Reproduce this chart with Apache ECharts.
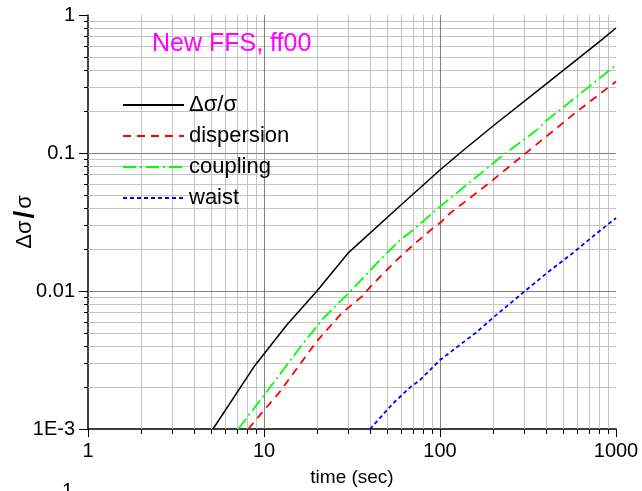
<!DOCTYPE html>
<html>
<head>
<meta charset="utf-8">
<script src="https://cdn.jsdelivr.net/npm/echarts@6/dist/echarts.min.js"></script>
<style>
html,body{margin:0;padding:0;background:#fff;}
#chart{width:642px;height:491px;}
</style>
</head>
<body>
<div id="chart"></div>
<script>
// ---- data ----
const seriesNames = ['Δσ/σ', 'dispersion', 'coupling', 'waist'];

const sigmaTime  = [5.13, 8.9, 10, 13.5, 20, 30, 60, 100, 130, 200, 405, 829, 1000];
const sigmaValue = [0.001, 0.0029, 0.0035, 0.0057, 0.0100, 0.0188, 0.042, 0.0753, 0.1, 0.157, 0.32, 0.66, 0.805];

const dispersionTime  = [8.14, 10, 12.1, 19.9, 27.6, 35.9, 40.9, 55.5, 70.5, 89.7, 102, 114, 184, 370, 598, 1000];
const dispersionValue = [0.001, 0.00137, 0.00181, 0.0043, 0.0069, 0.0091, 0.011, 0.0163, 0.0216, 0.028, 0.0318, 0.0366, 0.0586, 0.121, 0.199, 0.33];

const couplingTime  = [7.14, 10.36, 16.7, 21.7, 29.5, 39.1, 46.6, 59.3, 70.5, 93.7, 127, 229, 370, 395, 572, 1000];
const couplingValue = [0.001, 0.00186, 0.00418, 0.00634, 0.00935, 0.0136, 0.01725, 0.0234, 0.0277, 0.0382, 0.0524, 0.0967, 0.153, 0.169, 0.245, 0.434];

const waistTime  = [40, 54.3, 67.5, 76.9, 100, 162, 200, 304, 405, 570, 777, 1000];
const waistValue = [0.001, 0.00154, 0.0020, 0.00226, 0.00316, 0.00505, 0.0064, 0.01, 0.0135, 0.0189, 0.0262, 0.0338];

const xMajorTicks = [1, 10, 100, 1000];
const xTickLabels = ['1', '10', '100', '1000'];
const yMajorTicks = [0.001, 0.01, 0.1, 1];
const yTickLabels = ['1E-3', '0.01', '0.1', '1'];
const titleText = 'New FFS, ff00';
const xAxisTitle = 'time (sec)';
const yAxisTitle = 'Δσ{s|/}σ';

// ---- helpers ----
function zip(t, v) { return t.map((x, i) => [x, v[i]]); }
function minorsOf(majors) {
  const out = [];
  for (let i = 0; i < majors.length - 1; i++) {
    for (let k = 2; k <= 9; k++) out.push(+(majors[i] * k).toPrecision(6));
  }
  return out;
}
const xMinor = minorsOf(xMajorTicks);
const yMinor = minorsOf(yMajorTicks);
const xInner = xMajorTicks.slice(1, -1);
const yInner = yMajorTicks.slice(1, -1);

const FONT = "'Liberation Sans', Arial, sans-serif";

function gridLayer(values, dir, color, tickLen, drawLine) {
  return {
    type: 'custom',
    silent: true,
    z: 1,
    legendHoverLink: false,
    data: values.map(v => dir === 'v' ? [v, 0.01] : [10, v]),
    renderItem: function (params, api) {
      const cs = params.coordSys;
      const children = [];
      if (dir === 'v') {
        const x = Math.round(api.coord([api.value(0), 0.01])[0]) + 0.5;
        const bottom = cs.y + cs.height;
        if (drawLine) children.push({ type: 'line', shape: { x1: x, y1: cs.y, x2: x, y2: bottom }, style: { stroke: color, lineWidth: 1 } });
        if (tickLen) children.push({ type: 'line', shape: { x1: x, y1: bottom, x2: x, y2: bottom + tickLen }, style: { stroke: '#000', lineWidth: 1 } });
      } else {
        const y = Math.round(api.coord([10, api.value(1)])[1]) + 0.5;
        if (drawLine) children.push({ type: 'line', shape: { x1: cs.x, y1: y, x2: cs.x + cs.width, y2: y }, style: { stroke: color, lineWidth: 1 } });
        if (tickLen) children.push({ type: 'line', shape: { x1: cs.x - tickLen, y1: y, x2: cs.x, y2: y }, style: { stroke: '#000', lineWidth: 1 } });
      }
      return { type: 'group', children: children };
    }
  };
}

function labelFor(ticks, labels) {
  return function (v) {
    for (let i = 0; i < ticks.length; i++) {
      if (Math.abs(Math.log10(v) - Math.log10(ticks[i])) < 1e-6) return labels[i];
    }
    return '';
  };
}

const chart = echarts.init(document.getElementById('chart'), null, { renderer: 'canvas' });
chart.setOption({
  animation: false,
  backgroundColor: '#fff',
  textStyle: { fontFamily: FONT },
  title: {
    text: titleText,
    left: 152, top: 32, padding: 0,
    textStyle: { color: '#ff00ff', fontSize: 25, fontWeight: 'normal', fontFamily: FONT }
  },
  legend: {
    data: seriesNames,
    orient: 'vertical',
    left: 122, top: 94, padding: 0,
    itemWidth: 61, itemHeight: 14, itemGap: 9,
    itemStyle: { opacity: 0 },
    textStyle: { fontSize: 22, color: '#000', fontFamily: FONT, lineHeight: 22 }
  },
  grid: { left: 88, right: 26, top: 15, bottom: 62, containLabel: false, outerBoundsMode: 'none' },
  xAxis: {
    type: 'log', logBase: 10, min: 1, max: 1000,
    name: xAxisTitle, nameLocation: 'middle', nameGap: 39, nameMoveOverlap: false,
    nameTextStyle: { fontSize: 19, color: '#000', fontFamily: FONT },
    axisLine: { lineStyle: { color: '#000', width: 1.5 } },
    axisTick: { length: 8, lineStyle: { color: '#000', width: 1 } },
    axisLabel: { fontSize: 20, color: '#000', margin: 12, fontFamily: FONT, formatter: labelFor(xMajorTicks, xTickLabels) },
    splitLine: { show: false }
  },
  yAxis: {
    type: 'log', logBase: 10, min: 0.001, max: 1,
    name: yAxisTitle, nameLocation: 'middle', nameGap: 49, nameRotate: 90, nameMoveOverlap: false,
    nameTextStyle: { fontSize: 22, color: '#000', fontFamily: FONT,
      rich: { s: { fontSize: 28, fontWeight: 'bold', color: '#000', fontFamily: FONT, padding: [0, 2] } } },
    axisLine: { show: true, lineStyle: { color: '#000', width: 1.5 } },
    axisTick: { show: true, length: 9, lineStyle: { color: '#000', width: 1 } },
    axisLabel: { fontSize: 20, color: '#000', margin: 13, formatter: labelFor(yMajorTicks, yTickLabels), fontFamily: FONT },
    splitLine: { show: false }
  },
  graphic: [{
    type: 'text', left: 62, top: 481, silent: true,
    style: { text: '1', fontSize: 20, fill: '#000', fontFamily: FONT }
  }],
  series: [
    gridLayer(xMinor, 'v', '#c4c4c4', 5, true),
    gridLayer(yMinor, 'h', '#c4c4c4', 4, true),
    gridLayer(xInner, 'v', '#808080', 0, true),
    gridLayer(yInner, 'h', '#808080', 0, true),
    {
      name: seriesNames[0], type: 'line', z: 5, symbol: 'none', showSymbol: false,
      data: zip(sigmaTime, sigmaValue),
      itemStyle: { color: '#000' },
      lineStyle: { color: '#000', width: 1.5, type: 'solid' }
    },
    {
      name: seriesNames[1], type: 'line', z: 5, symbol: 'none', showSymbol: false,
      data: zip(dispersionTime, dispersionValue),
      itemStyle: { color: '#ff0000' },
      lineStyle: { color: '#ff0000', width: 1.8, type: [8, 6] }
    },
    {
      name: seriesNames[2], type: 'line', z: 5, symbol: 'none', showSymbol: false,
      data: zip(couplingTime, couplingValue),
      itemStyle: { color: '#00ff00' },
      lineStyle: { color: '#00ff00', width: 1.8, type: [13, 4, 2, 4] }
    },
    {
      name: seriesNames[3], type: 'line', z: 5, symbol: 'none', showSymbol: false,
      data: zip(waistTime, waistValue),
      itemStyle: { color: '#0000ff' },
      lineStyle: { color: '#0000ff', width: 1.8, type: [4, 3] }
    }
  ]
});
</script>
</body>
</html>
